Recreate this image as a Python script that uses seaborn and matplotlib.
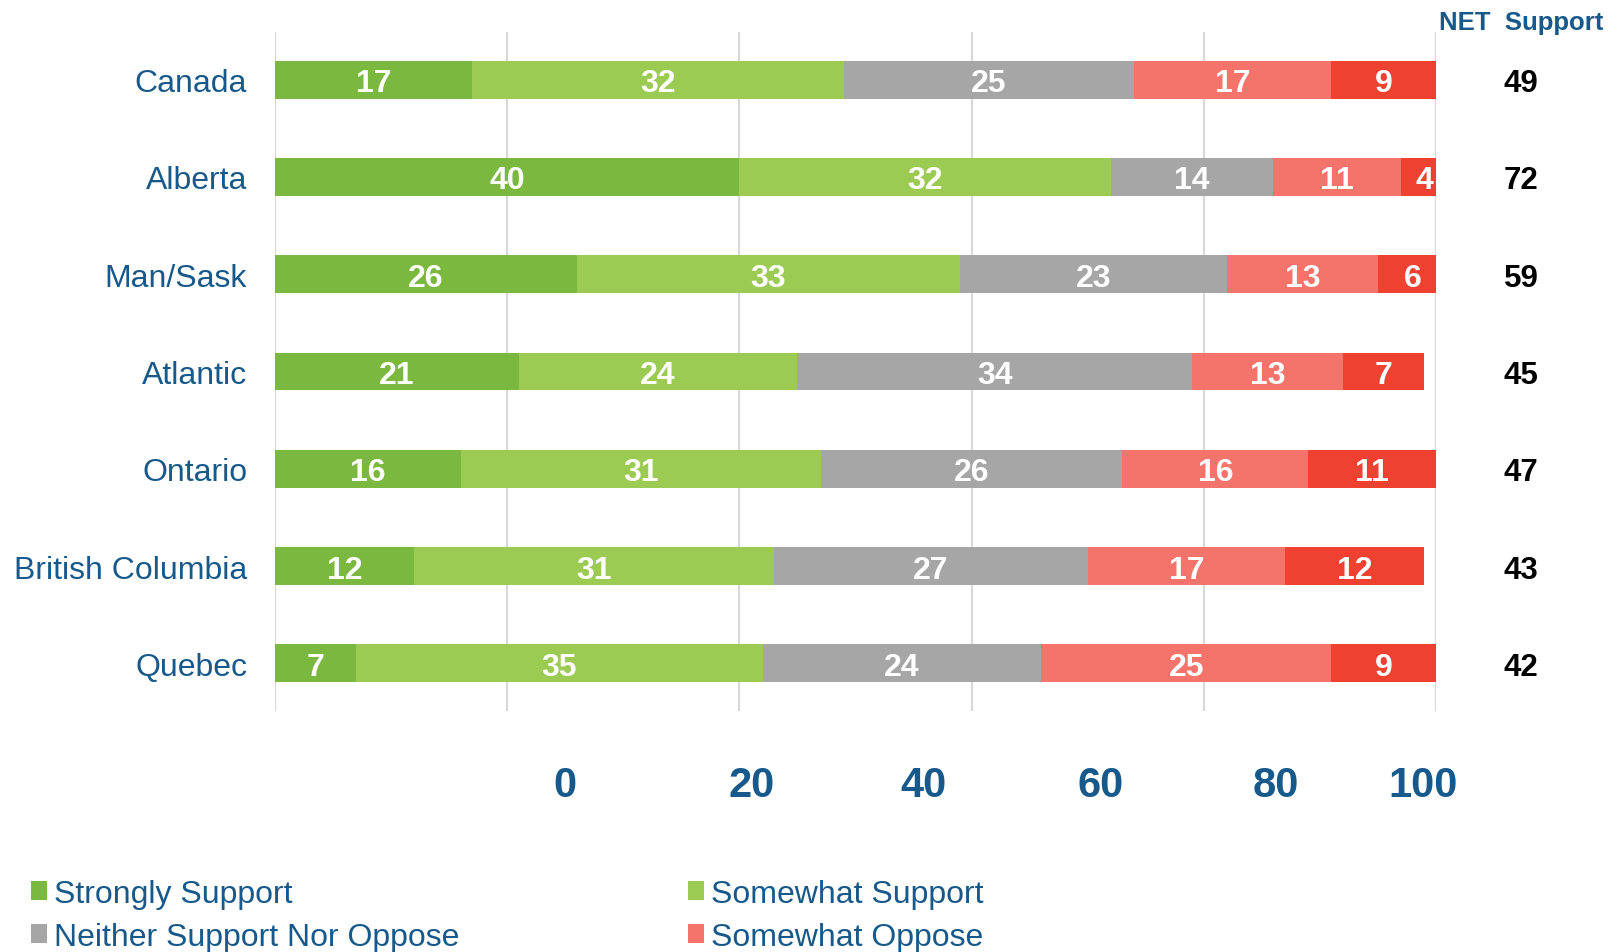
import numpy as np
import pandas as pd
import matplotlib
matplotlib.use("Agg")
import matplotlib.pyplot as plt
import seaborn as sns
from matplotlib.patches import Patch

# ---------------- data ----------------
regions = ["Canada", "Alberta", "Man/Sask", "Atlantic", "Ontario",
           "British Columbia", "Quebec"]
strongly_support = [17, 40, 26, 21, 16, 12, 7]
somewhat_support = [32, 32, 33, 24, 31, 31, 35]
neither = [25, 14, 23, 34, 26, 27, 24]
somewhat_oppose = [17, 11, 13, 13, 16, 17, 25]
strongly_oppose = [9, 4, 6, 7, 11, 12, 9]
net_support = [49, 72, 59, 45, 47, 43, 42]
series_names = ["Strongly Support", "Somewhat Support",
                "Neither Support Nor Oppose", "Somewhat Oppose", "Strongly Oppose"]
grid_values = [0, 20, 40, 60, 80, 100]
tick_labels = ["0", "20", "40", "60", "80", "100"]

# ---------------- style ----------------
colors = ["#7AB840", "#9BCB52", "#A6A6A6", "#F4736A", "#EF4130"]
BLUE = "#16598A"
tick_label_pos = [25.0, 41.1, 55.9, 71.1, 86.2, 98.9]  # layout of the (offset) tick labels

sns.set_theme(style="white")
plt.rcParams["font.family"] = ["Liberation Sans", "DejaVu Sans"]

fig = plt.figure(figsize=(16.22, 9.53), dpi=100)
ax = fig.add_axes([0.1695, 0.2529, 0.7158, 0.7125])

series = [strongly_support, somewhat_support, neither, somewhat_oppose, strongly_oppose]
df = pd.DataFrame({n: v for n, v in zip(series_names, series)})
df["region"] = regions
cum = df[series_names].cumsum(axis=1)
cum["region"] = regions

# stacked bars: draw cumulative totals from largest to smallest
for name, col in reversed(list(zip(series_names, colors))):
    sns.barplot(data=cum, x=name, y="region", color=col, saturation=1,
                orient="h", width=0.39, linewidth=0, ax=ax, zorder=2,
                order=regions)

# segment labels
for i in range(len(regions)):
    left = 0
    for name in series_names:
        v = df.loc[i, name]
        ax.text(left + v / 2, i, str(v), ha="center", va="center_baseline",
                color="white", fontsize=23, fontweight="bold", zorder=3)
        left += v

# gridlines
for g in grid_values:
    ax.axvline(g, color="#D9D9D9", lw=1.6, zorder=0.5)

ax.set_xlim(0, 100)
ax.set_ylim(6.49, -0.49)
for s in ax.spines.values():
    s.set_visible(False)
ax.set_xlabel("")
ax.set_ylabel("")
ax.set_xticks(tick_label_pos)
ax.set_xticklabels(tick_labels, fontsize=30, fontweight="bold", color=BLUE)
ax.tick_params(axis="x", length=0, pad=39)
ax.tick_params(axis="y", length=0, pad=20, labelsize=23, labelcolor=BLUE)

# NET support column
for i, v in enumerate(net_support):
    ax.text(1.0732, i, str(v), transform=ax.get_yaxis_transform(),
            ha="center", va="center_baseline", fontsize=22.5, fontweight="bold",
            color="black")
fig.text(0.9377, 0.976, "NET  Support", ha="center", va="center",
         fontsize=18.5, fontweight="bold", color=BLUE)

# legend (only the first four entries are visible in the reference)
order = [0, 2, 1, 3]
handles = [Patch(facecolor=colors[k], edgecolor="none", label=series_names[k]) for k in order]
fig.legend(handles=handles, loc="upper left", bbox_to_anchor=(0.019, 0.077),
           ncol=2, frameon=False, fontsize=23, labelcolor=BLUE,
           handlelength=0.5, handleheight=0.55, handletextpad=0.22,
           columnspacing=7.15, labelspacing=0.42, borderpad=0, borderaxespad=0)

fig.savefig("out.png", dpi=100)
